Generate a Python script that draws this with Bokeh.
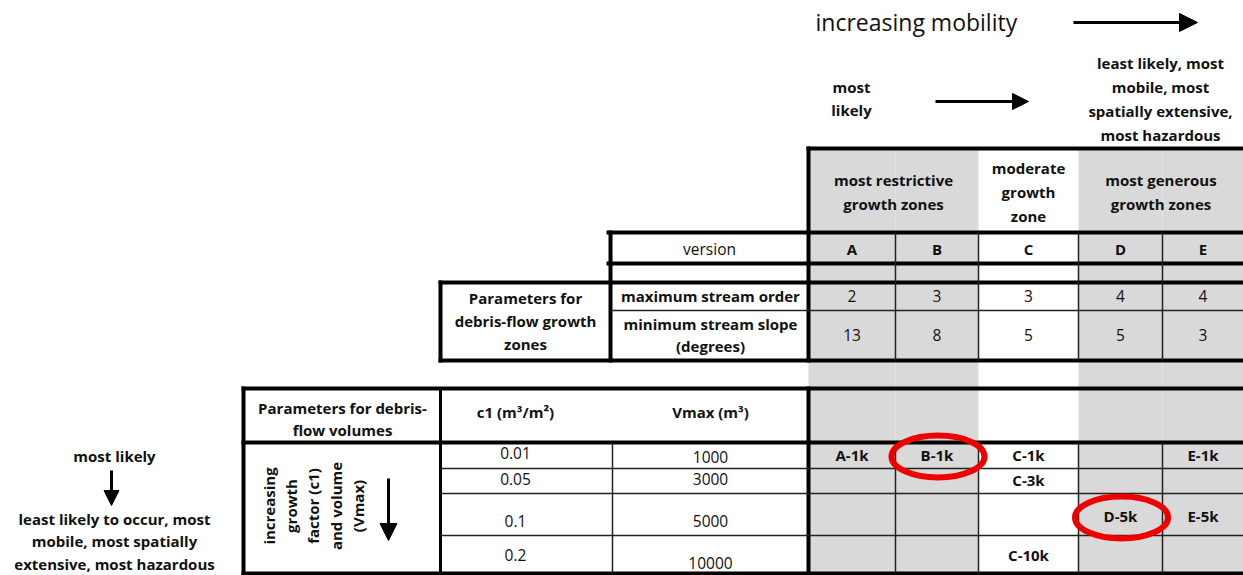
from bokeh.plotting import figure
from bokeh.models import Range1d, ColumnDataSource, Arrow, NormalHead
from bokeh.core.properties import value
from bokeh.embed import file_html
from bokeh.resources import INLINE
import math

# ---------------- data ----------------
versions = ["A", "B", "C", "D", "E"]
zone_groups = [["most restrictive", "growth zones"], ["moderate", "growth", "zone"], ["most generous", "growth zones"]]
max_stream_order = ["2", "3", "3", "4", "4"]
min_stream_slope = ["13", "8", "5", "5", "3"]
c1_values = ["0.01", "0.05", "0.1", "0.2"]
vmax_values = ["1000", "3000", "5000", "10000"]
run_versions = ["A", "B", "C", "E", "C", "D", "E", "C"]
run_rows = [0, 0, 0, 0, 1, 2, 2, 3]
run_labels = ["A-1k", "B-1k", "C-1k", "E-1k", "C-3k", "D-5k", "E-5k", "C-10k"]
highlighted = ["B-1k", "D-5k"]
shaded_versions = ["A", "B", "D", "E"]

# ---------------- layout (pixel geometry) ----------------
FONT = "Open Sans"
TXT = "#111111"
GRAY = "#d9d9d9"
DY = -1.5  # small baseline correction for the font
col_edges = [808, 895, 978, 1078, 1162, 1243]
col_center = {v: (col_edges[i] + col_edges[i + 1]) / 2 for i, v in enumerate(versions)}
zone_spans = [(808, 978), (978, 1078), (1078, 1243)]
row_edges = [442, 468, 493, 535, 573]
c1_y = [454, 480, 522, 556]
vmax_y = [458, 480, 522, 564]
run_y = [456, 481, 517, 556]

p = figure(width=1243, height=575, x_range=Range1d(0, 1243), y_range=Range1d(575, 0),
           x_axis_type=None, y_axis_type=None, output_backend="svg", toolbar_location=None,
           min_border=0, outline_line_color=None)
p.xgrid.visible = False
p.ygrid.visible = False
p.background_fill_color = "white"

# shading of gray columns
shade_l, shade_r = [], []
for v in shaded_versions:
    i = versions.index(v)
    shade_l.append(col_edges[i]); shade_r.append(col_edges[i + 1])
p.quad(left=shade_l, right=shade_r, top=[148] * len(shade_l), bottom=[573] * len(shade_l),
       fill_color=GRAY, line_color=None)

# lines
thick = [
    (808, 148, 1243, 148), (808, 148, 808, 360),
    (608, 232, 1243, 232), (608, 263, 1243, 263), (610, 232, 610, 360),
    (440, 282, 1243, 282), (440, 360, 1243, 360), (440, 282, 440, 360),
    (243, 388, 1243, 388), (243, 442, 1243, 442), (243, 573, 1243, 573),
    (243, 388, 243, 573), (808, 388, 808, 573),
]
p.segment(x0=[s[0] for s in thick], y0=[s[1] for s in thick], x1=[s[2] for s in thick], y1=[s[3] for s in thick],
          line_color="black", line_width=4, line_cap="square")
p.segment(x0=[440], y0=[388], x1=[440], y1=[573], line_color="black", line_width=3)
thin = [(610, 310, 1243, 310), (612, 442, 612, 573)]
for x in col_edges[1:-1]:
    thin.append((x, 232, x, 360))
    thin.append((x, 442, x, 573))
for y in row_edges[1:-1]:
    thin.append((440, y, 1243, y))
p.segment(x0=[s[0] for s in thin], y0=[s[1] for s in thin], x1=[s[2] for s in thin], y1=[s[3] for s in thin],
          line_color="#222222", line_width=1.5)

# text helper
def txt(xs, ys, texts, bold=False, size="15px", align="center", angle=0):
    src = ColumnDataSource(dict(x=xs, y=[y + DY for y in ys], t=texts))
    p.text(x="x", y="y", text="t", source=src, text_font=value(FONT), text_font_size=size,
           text_font_style="bold" if bold else "normal", text_align=align, text_baseline="middle",
           text_color=TXT, angle=angle)

# top annotations
txt([815], [23], ["increasing mobility"], size="23px", align="left")
txt([851, 851], [88, 111], ["most", "likely"], bold=True)
txt([1160] * 4, [64, 88, 112, 136],
    ["least likely, most", "mobile, most", "spatially extensive,", "most hazardous"], bold=True)

# zone header
for (l, r), lines in zip(zone_spans, zone_groups):
    n = len(lines)
    ys = [193 - 12 * (n - 1) + 24 * k for k in range(n)]
    txt([(l + r) / 2] * n, ys, lines, bold=True)

# version row
txt([709], [250], ["version"], size="15.5px")
txt([col_center[v] for v in versions], [250] * 5, versions, bold=True)

# parameters for growth zones
txt([525] * 3, [299, 322, 345], ["Parameters for", "debris-flow growth", "zones"], bold=True)
txt([710], [297], ["maximum stream order"], bold=True)
txt([710, 710], [325, 347], ["minimum stream slope", "(degrees)"], bold=True)
txt([col_center[v] for v in versions], [297] * 5, max_stream_order, size="15.5px")
txt([col_center[v] for v in versions], [336] * 5, min_stream_slope, size="15.5px")

# volume table header
txt([342, 342], [409, 431], ["Parameters for debris-", "flow volumes"], bold=True)
txt([515], [413], ["c1 (m\u00b3/m\u00b2)"], bold=True)
txt([710], [413], ["Vmax (m\u00b3)"], bold=True)
txt([515] * 4, c1_y, c1_values, size="15.5px")
txt([710] * 4, vmax_y, vmax_values, size="15.5px")
txt([268, 290, 312, 335, 357], [507] * 5,
    ["increasing", "growth", "factor (c1)", "and volume", "(Vmax)"], bold=True, angle=math.pi / 2)

# run labels
txt([col_center[v] for v in run_versions], [run_y[r] for r in run_rows], run_labels, bold=True)

# highlighted runs
hx = [col_center[run_versions[run_labels.index(h)]] + 1 for h in highlighted]
hy = [run_y[run_rows[run_labels.index(h)]] for h in highlighted]
p.ellipse(x=hx, y=hy, width=[93] * len(hx), height=[42] * len(hx), fill_color=None,
          line_color="#ee0000", line_width=6)

# left annotation
txt([114], [457], ["most likely"], bold=True)
txt([114] * 3, [520, 542, 565],
    ["least likely to occur, most", "mobile, most spatially", "extensive, most hazardous"], bold=True)

# arrows
def arrow(x0, y0, x1, y1, size):
    p.add_layout(Arrow(end=NormalHead(size=size, fill_color="black", line_color="black", line_width=1),
                       x_start=x0, y_start=y0, x_end=x1, y_end=y1, line_width=3, line_color="black"))

arrow(1073, 22, 1197, 22, 18)
arrow(935, 101, 1028, 101, 16)
arrow(388, 478, 388, 540, 17)
arrow(111, 470, 111, 505, 15)

open("out.html", "w").write(file_html(p, INLINE))
